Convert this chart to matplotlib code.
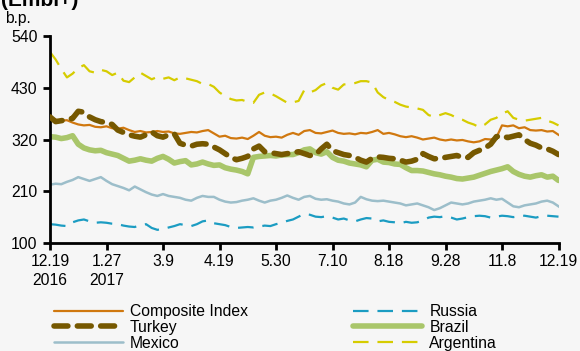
import matplotlib
matplotlib.use("Agg")
import matplotlib.pyplot as plt
import numpy as np

plt.rcParams['font.family'] = ['Liberation Sans', 'DejaVu Sans']

tick_labels = ["12.19\n2016", "1.27\n2017", "3.9", "4.19", "5.30", "7.10", "8.18", "9.28", "11.8", "12.19"]
y_ticks = [100, 210, 320, 430, 540]

composite = [364, 362, 360, 361, 356, 352, 350, 351, 347, 346,
             348, 344, 343, 345, 340, 336, 338, 335, 336, 338,
             336, 337, 333, 332, 334, 336, 335, 338, 340, 333,
             326, 328, 323, 322, 324, 321, 328, 336, 328, 325,
             326, 324, 330, 334, 330, 338, 340, 334, 333, 336,
             339, 334, 332, 333, 331, 334, 333, 336, 340, 332,
             334, 331, 327, 325, 327, 324, 320, 322, 324, 320,
             318, 320, 318, 319, 316, 314, 316, 321, 320, 324,
             350, 348, 350, 344, 346, 340, 339, 340, 337, 338, 330]

turkey = [368, 358, 360, 362, 365, 380, 378, 368, 362, 358,
          356, 352, 340, 335, 330, 327, 325, 330, 336, 328,
          325, 330, 332, 312, 308, 306, 310, 311, 310, 304,
          298, 290, 282, 277, 280, 284, 300, 306, 294, 292,
          290, 288, 290, 292, 294, 290, 286, 288, 300, 310,
          296, 292, 288, 286, 282, 276, 272, 280, 283, 282,
          280, 279, 276, 272, 274, 278, 290, 284, 279, 280,
          282, 284, 286, 282, 282, 292, 297, 302, 310, 326,
          328, 324, 327, 330, 320, 312, 308, 302, 300, 295, 288]

mexico = [224, 226, 225, 230, 234, 240, 236, 232, 236, 240,
          232, 225, 221, 217, 212, 220, 214, 208, 203, 200,
          204, 200, 198, 196, 192, 190, 196, 200, 198, 198,
          192, 188, 186, 187, 190, 192, 195, 190, 186, 190,
          192, 196, 201, 196, 192, 198, 200, 194, 192, 193,
          190, 188, 184, 182, 186, 198, 193, 190, 189, 190,
          188, 186, 184, 180, 182, 184, 180, 176, 170, 174,
          180, 186, 184, 182, 184, 188, 190, 192, 195, 192,
          194, 186, 178, 176, 180, 182, 184, 188, 190, 186, 178]

russia = [140, 139, 137, 136, 144, 148, 150, 146, 143, 144,
          143, 141, 140, 137, 135, 134, 138, 140, 132, 128,
          130, 133, 136, 140, 138, 136, 140, 146, 148, 142,
          140, 138, 134, 132, 133, 134, 133, 135, 137, 136,
          140, 143, 147, 150, 156, 162, 160, 156, 155, 157,
          154, 150, 152, 148, 146, 150, 153, 152, 146, 148,
          145, 144, 142, 145, 143, 144, 148, 154, 156, 155,
          157, 154, 150, 152, 155, 157, 158, 157, 154, 156,
          158, 157, 155, 157, 158, 156, 154, 157, 158, 157, 156]

brazil = [326, 325, 322, 324, 328, 310, 302, 298, 296, 297,
          292, 289, 286, 280, 274, 276, 279, 276, 274, 280,
          284, 278, 270, 273, 275, 266, 268, 272, 268, 265,
          266, 260, 257, 255, 252, 247, 282, 284, 285, 286,
          285, 287, 288, 288, 292, 298, 300, 292, 289, 294,
          282, 276, 274, 270, 268, 266, 262, 276, 278, 272,
          271, 268, 267, 260, 254, 254, 253, 250, 247, 245,
          242, 240, 237, 236, 238, 240, 244, 248, 252, 255,
          258, 262, 252, 246, 242, 240, 243, 245, 240, 242, 233]

argentina = [506, 490, 470, 452, 460, 472, 478, 465, 462, 468,
             465, 457, 462, 445, 442, 452, 462, 455, 448, 453,
             449, 452, 446, 452, 450, 447, 444, 438, 438, 432,
             420, 412, 406, 403, 404, 400, 398, 415, 420, 418,
             412, 405, 398, 399, 402, 425, 420, 425, 435, 440,
             430, 426, 437, 438, 440, 444, 444, 441, 420, 410,
             404, 400, 394, 390, 388, 386, 383, 372, 368, 372,
             376, 372, 366, 362, 356, 352, 346, 352, 362, 366,
             375, 380, 366, 362, 360, 362, 364, 366, 360, 356, 350]

FS = 11.3
W, H = 580, 351
fig = plt.figure(figsize=(W / 100, H / 100), dpi=100)
fig.patch.set_facecolor('#f6f6f6')
ax = fig.add_axes([50 / W, 1 - 243 / H, (558.5 - 50) / W, (243 - 36) / H])
ax.set_facecolor('none')

x = np.arange(len(composite))
l1, = ax.plot(x, composite, color='#D0780F', lw=1.6, label='Composite Index', zorder=2.5)
l2, = ax.plot(x, turkey, color='#765800', lw=4.0, ls=(0, (2.5, 1.7)), dash_capstyle='round',
              label='Turkey', zorder=3)
l3, = ax.plot(x, mexico, color='#9CBECA', lw=1.8, label='Mexico', zorder=2)
l4, = ax.plot(x, russia, color='#1B9CC2', lw=1.6, ls=(0, (7, 4)), label='Russia', zorder=2)
l5, = ax.plot(x, brazil, color='#A9C66A', lw=4.0, solid_capstyle='round', label='Brazil', zorder=2)
l6, = ax.plot(x, argentina, color='#D6CC00', lw=1.6, ls=(0, (7, 4)), label='Argentina', zorder=2)

ax.set_xlim(0, len(composite) - 1)
ax.set_ylim(100, 540)
ax.set_yticks(y_ticks)
ax.set_yticklabels([str(v) for v in y_ticks], fontsize=FS)
ax.set_xticks(np.arange(0, len(composite), 10))
ax.set_xticklabels(tick_labels, fontsize=FS, linespacing=1.35)
for side in ['top', 'right']:
    ax.spines[side].set_visible(False)
for side in ['left', 'bottom']:
    ax.spines[side].set_linewidth(2)
ax.tick_params(axis='both', direction='out', length=5, width=2, pad=3)
ax.tick_params(axis='y', pad=4)

fig.text(1 / W, 1 - 1 / H, '(Embi+)', fontsize=15, fontweight='bold', va='center', ha='left')
fig.text(5 / W, 1 - 18 / H, 'b.p.', fontsize=FS, va='center', ha='left')

leg = fig.legend(handles=[l1, l2, l3, l4, l5, l6], loc='upper left',
                 bbox_to_anchor=(54 / W, 1 - 304 / H), ncol=2, frameon=False,
                 fontsize=FS, handlelength=4.4, handletextpad=0.45, columnspacing=6.7,
                 labelspacing=0.05, borderaxespad=0, borderpad=0)
for lh in leg.get_lines():
    lh.set_solid_capstyle('round')

fig.savefig('out.png', dpi=100, facecolor=fig.get_facecolor())
